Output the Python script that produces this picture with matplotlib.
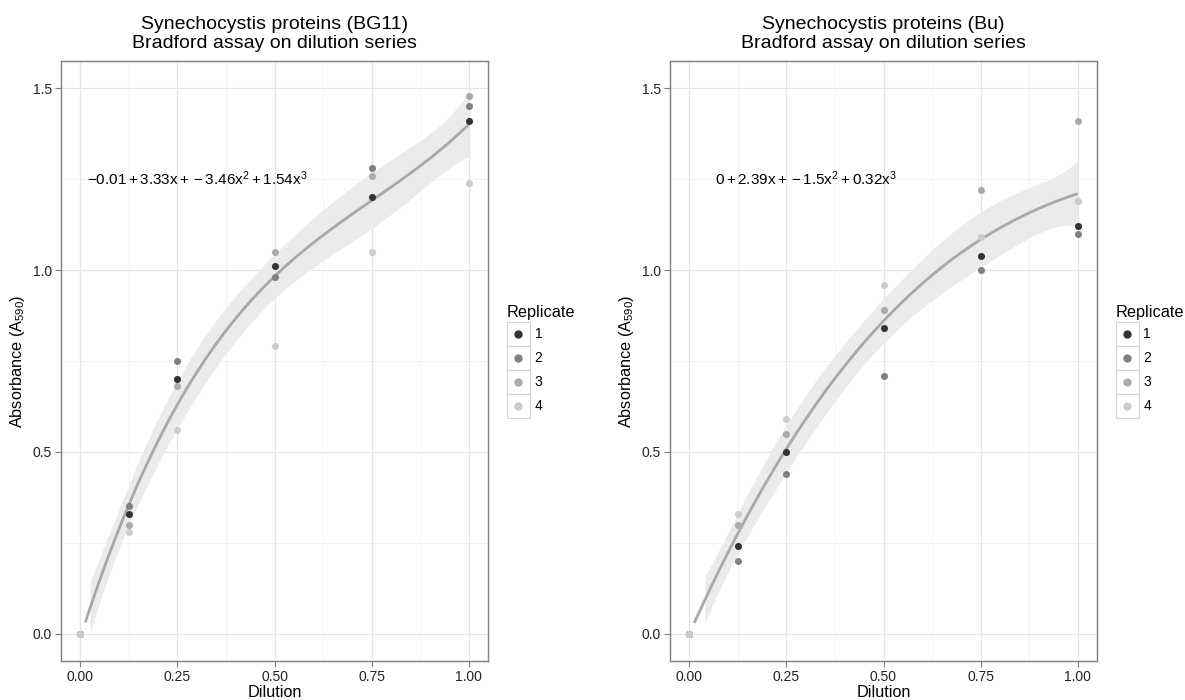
import numpy as np
import matplotlib
matplotlib.use("Agg")
import matplotlib.pyplot as plt
from matplotlib.patches import Rectangle

plt.rcParams["font.family"] = ["Liberation Sans", "DejaVu Sans"]
plt.rcParams["mathtext.fontset"] = "custom"
plt.rcParams["mathtext.rm"] = "Liberation Sans"
plt.rcParams["mathtext.it"] = "Liberation Sans"
plt.rcParams["mathtext.bf"] = "Liberation Sans:bold"

# ---- data ----
dilution = [0.0, 0.125, 0.25, 0.5, 0.75, 1.0]
replicates = ["1", "2", "3", "4"]

bg11_rep1 = [0.0, 0.33, 0.70, 1.01, 1.20, 1.41]
bg11_rep2 = [0.0, 0.35, 0.75, 0.98, 1.28, 1.45]
bg11_rep3 = [0.0, 0.30, 0.68, 1.05, 1.26, 1.48]
bg11_rep4 = [0.0, 0.28, 0.56, 0.79, 1.05, 1.24]

bu_rep1 = [0.0, 0.24, 0.50, 0.84, 1.04, 1.12]
bu_rep2 = [0.0, 0.20, 0.44, 0.71, 1.00, 1.10]
bu_rep3 = [0.0, 0.30, 0.55, 0.89, 1.22, 1.41]
bu_rep4 = [0.0, 0.33, 0.59, 0.96, 1.09, 1.19]

# cubic fit coefficients (constant, x, x^2, x^3)
bg11_coef = [-0.01, 3.33, -3.46, 1.54]
bu_coef = [0.0, 2.39, -1.5, 0.32]

titles = ["Synechocystis proteins (BG11)\nBradford assay on dilution series",
          "Synechocystis proteins (Bu)\nBradford assay on dilution series"]
equations = [r"$-0.01+3.33\mathrm{x}+-3.46\mathrm{x}^{2}+1.54\mathrm{x}^{3}$",
             r"$0+2.39\mathrm{x}+-1.5\mathrm{x}^{2}+0.32\mathrm{x}^{3}$"]

xticks = [0.0, 0.25, 0.5, 0.75, 1.0]
xticklabels = ["0.00", "0.25", "0.50", "0.75", "1.00"]
yticks = [0.0, 0.5, 1.0, 1.5]
yticklabels = ["0.0", "0.5", "1.0", "1.5"]

# ---- style ----
rep_colors = ["#333333", "#818181", "#ABABAB", "#CCCCCC"]
W, H = 1185, 700
fig = plt.figure(figsize=(W / 100, H / 100), dpi=100)


def fx(px):
    return px / W


def fy(py):
    return 1 - py / H


def panel(left_px, reps, coef, title, eq, band_start, legend_x):
    ax = fig.add_axes([fx(left_px), fy(661), (427) / W, 600 / H])
    ax.set_xlim(-0.05, 1.05)
    ax.set_ylim(-0.075, 1.575)

    # grid
    for v in [0.125, 0.375, 0.625, 0.875]:
        ax.axvline(v, color="#F3F3F3", lw=0.6, zorder=0)
    for v in [0.25, 0.75, 1.25]:
        ax.axhline(v, color="#F3F3F3", lw=0.6, zorder=0)
    for v in xticks:
        ax.axvline(v, color="#E5E5E5", lw=0.9, zorder=0)
    for v in yticks:
        ax.axhline(v, color="#E5E5E5", lw=0.9, zorder=0)

    # pooled observations for the confidence band
    xs = np.concatenate([np.asarray(dilution)] * len(reps))
    ys = np.concatenate([np.asarray(r) for r in reps])
    c = np.asarray(coef)
    X = np.vander(xs, 4, increasing=True)
    resid = ys - X @ c
    dof = len(xs) - 4
    sigma2 = np.sum(resid ** 2) / dof
    cov = sigma2 * np.linalg.inv(X.T @ X)
    t975 = 2.086

    xb = np.linspace(band_start, 1.0, 120)
    Xb = np.vander(xb, 4, increasing=True)
    yb = Xb @ c
    se = np.sqrt(np.einsum("ij,jk,ik->i", Xb, cov, Xb))
    ax.fill_between(xb, yb - t975 * se, yb + t975 * se, color="#EBEBEB",
                    lw=0, zorder=1)

    xl = np.linspace(0.0125, 1.0, 120)
    yl = np.vander(xl, 4, increasing=True) @ c
    ax.plot(xl, yl, color="#A8A8A8", lw=2.0, zorder=2, solid_capstyle="butt")

    for r, col in zip(reps, rep_colors):
        ax.scatter(dilution, r, s=26, color=col, lw=0, zorder=3)

    ax.text(0.3, 1.25, eq, ha="center", va="center", fontsize=11,
            color="black", zorder=4)

    ax.set_xticks(xticks)
    ax.set_xticklabels(xticklabels)
    ax.set_yticks(yticks)
    ax.set_yticklabels(yticklabels)
    ax.tick_params(length=4, width=0.8, color="#7F7F7F", labelsize=10,
                   labelcolor="#222222", pad=2.5)
    for s in ax.spines.values():
        s.set_color("#7F7F7F")
        s.set_linewidth(1.0)

    ax.set_xlabel("Dilution", fontsize=11.7, labelpad=1)
    ax.set_ylabel(r"Absorbance (A$_{590}$)", fontsize=11.7, labelpad=4)
    ax.set_title(title, fontsize=14, pad=9)

    # legend
    fig.text(fx(legend_x), fy(312), "Replicate", fontsize=11.7,
             ha="left", va="center")
    key_w, key_h = 23, 24
    top = 322
    for i, (lab, col) in enumerate(zip(replicates, rep_colors)):
        y0 = top + i * key_h
        fig.add_artist(Rectangle((fx(legend_x), fy(y0 + key_h)), key_w / W,
                                 key_h / H, transform=fig.transFigure,
                                 facecolor="white", edgecolor="#D4D4D4",
                                 lw=0.8))
        fig.add_artist(plt.Line2D([fx(legend_x + key_w / 2)],
                                  [fy(y0 + key_h / 2)],
                                  transform=fig.transFigure, marker="o",
                                  markersize=5, color=col, lw=0))
        fig.text(fx(legend_x + key_w + 5), fy(y0 + key_h / 2), lab,
                 fontsize=10, ha="left", va="center")
    return ax


panel(61, [bg11_rep1, bg11_rep2, bg11_rep3, bg11_rep4], bg11_coef,
      titles[0], equations[0], 0.025, 506.5)
panel(670, [bu_rep1, bu_rep2, bu_rep3, bu_rep4], bu_coef,
      titles[1], equations[1], 0.04, 1115.5)

fig.savefig("out.png", dpi=100)
